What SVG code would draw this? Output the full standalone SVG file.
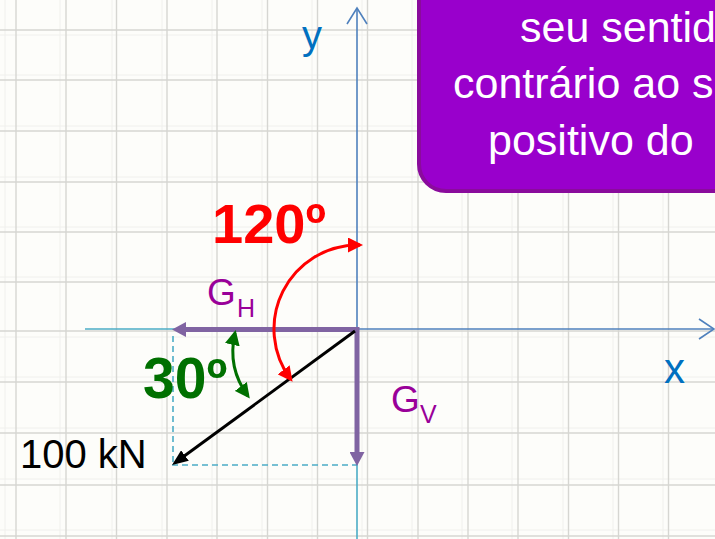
<svg xmlns="http://www.w3.org/2000/svg" width="715" height="539" viewBox="0 0 715 539">
<style>
.gmaj{stroke:#d6d6d2;stroke-width:1.4;fill:none}
.gmin{stroke:#f0f0ed;stroke-width:1;fill:none}
.ax{stroke:#4f81bd;stroke-width:1.6;fill:none}
.axc{stroke:#4bacc6;stroke-width:1.6;fill:none}
.dash{stroke:#4bacc6;stroke-width:1.6;fill:none;stroke-dasharray:6 4}
.lbl{font-family:"Liberation Sans",Arial,sans-serif}
.bold{font-family:"Liberation Sans",Arial,sans-serif;font-weight:bold}
</style>
<defs>
<marker id="hPur" markerUnits="userSpaceOnUse" markerWidth="14" markerHeight="15" viewBox="0 0 14 15" refX="4" refY="7.5" orient="auto-start-reverse"><path d="M0,0 L14,7.5 L0,15 z" fill="#8064a2"/></marker>
<marker id="hBlk" markerUnits="userSpaceOnUse" markerWidth="16" markerHeight="13" viewBox="0 0 16 13" refX="8" refY="6.5" orient="auto-start-reverse"><path d="M0,0 L16,6.5 L0,13 z" fill="#000"/></marker>
<marker id="hRed" markerUnits="userSpaceOnUse" markerWidth="15" markerHeight="15" viewBox="0 0 15 15" refX="12" refY="7.5" orient="auto-start-reverse"><path d="M0,0 L15,7.5 L0,15 z" fill="#ff0000"/></marker>
<marker id="hGrn" markerUnits="userSpaceOnUse" markerWidth="15" markerHeight="15" viewBox="0 0 15 15" refX="12" refY="7.5" orient="auto-start-reverse"><path d="M0,0 L15,7.5 L0,15 z" fill="#007000"/></marker>
</defs>
<rect width="715" height="539" fill="#fdfdfa"/>
<g id="grid">
<path class="gmin" d="M5,0V539M60,0V539M112,0V539M162,0V539M212,0V539M262,0V539M312,0V539M362,0V539M412,0V539M462,0V539M512,0V539M563,0V539M613,0V539M663,0V539M0,35H715M0,75H715M0,126H715M0,177H715M0,227H715M0,277H715M0,337H715M0,377H715M0,428H715M0,479H715M0,530H715"/>
<path class="gmaj" d="M16,0V539M66,0V539M116.5,0V539M167,0V539M217,0V539M267.5,0V539M317.5,0V539M367.5,0V539M418,0V539M468,0V539M518,0V539M568.5,0V539M618.5,0V539M668.5,0V539M0,30H715M0,80H715M0,131H715M0,182H715M0,232H715M0,282H715M0,331H715M0,382H715M0,433H715M0,485H715M0,536H715"/>
</g>
<g id="callout">
<rect x="419" y="-40" width="340" height="231" rx="27" fill="#9900cc" stroke="#8a0b9c" stroke-width="4"/>
<text class="lbl" font-size="43" fill="#ffffff"><tspan x="520" y="42">seu sentid</tspan><tspan x="453" y="98">contrário ao s</tspan><tspan x="488" y="155">positivo do</tspan></text>
</g>
<g id="axes">
<path class="ax" d="M357,8V329"/>
<path class="ax" d="M347,24L357,8L367,24"/>
<path class="ax" d="M357,329H714"/>
<path class="ax" d="M699,319L714,329L699,339"/>
<path class="axc" d="M85,329H357"/>
<path class="axc" d="M357,329V539"/>
</g>
<g id="connectors">
<path class="dash" d="M173,336V465"/>
<path class="dash" d="M172,465H357"/>
<path d="M359,329.5H182" stroke="#8064a2" stroke-width="5" fill="none" marker-end="url(#hPur)"/>
<path d="M357,327V456" stroke="#8064a2" stroke-width="5" fill="none" marker-end="url(#hPur)"/>
<path d="M355,331L178.5,460.3" stroke="#000" stroke-width="3" fill="none" marker-end="url(#hBlk)"/>
<path d="M360,245L358,245A84,84 0 0 0 290.8,379.4" stroke="#ff0000" stroke-width="3" fill="none" marker-start="url(#hRed)" marker-end="url(#hRed)"/>
<path d="M235,333Q227,368 248,396" stroke="#007000" stroke-width="3" fill="none" marker-start="url(#hGrn)" marker-end="url(#hGrn)"/>
</g>
<g id="label-y"><text class="lbl" x="302" y="49" font-size="40" fill="#0070c0">y</text></g>
<g id="label-x"><text class="lbl" x="664" y="383" font-size="42" fill="#0070c0">x</text></g>
<g id="label-120"><text class="bold" x="212" y="243" font-size="56" fill="#ff0000">120º</text></g>
<g id="label-30"><text class="bold" x="143" y="398" font-size="57" fill="#007000">30º</text></g>
<g id="label-GH"><text class="lbl" fill="#990099"><tspan x="207" y="305" font-size="37">G</tspan><tspan x="237" y="317" font-size="25">H</tspan></text></g>
<g id="label-GV"><text class="lbl" fill="#990099"><tspan x="391" y="412" font-size="37">G</tspan><tspan x="420" y="423" font-size="25">V</tspan></text></g>
<g id="label-100kN"><text class="lbl" x="20" y="468" font-size="40" fill="#000">100 kN</text></g>
</svg>
